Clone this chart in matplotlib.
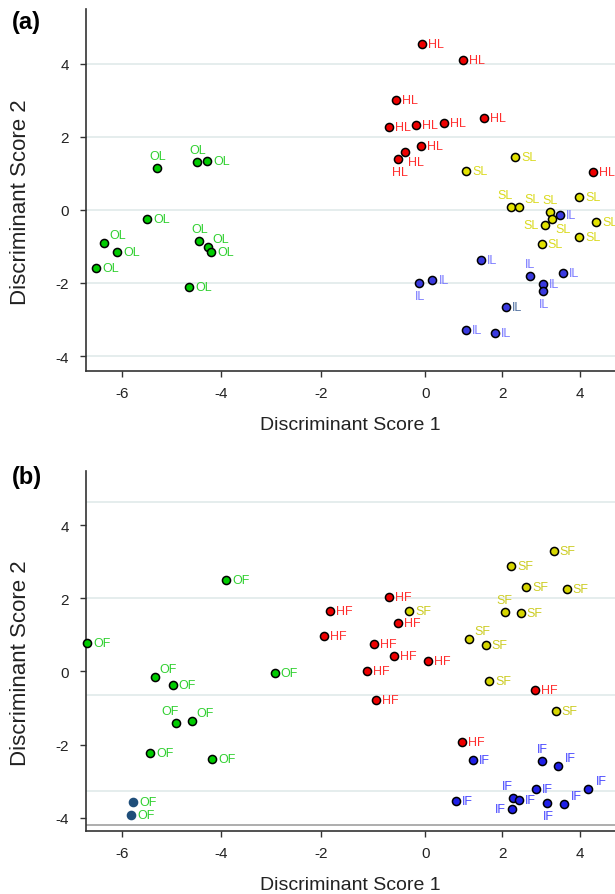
"""
Discriminant analysis scores, panels (a) leaf-type groups and (b) flower-type groups.
Writes out.png.
"""

import numpy as np
import matplotlib

matplotlib.use("Agg")
import matplotlib.pyplot as plt

plt.rcParams["font.family"] = ["Liberation Sans", "DejaVu Sans"]
plt.rcParams["axes.unicode_minus"] = False

# ---- panel (a) data -------------------------------------------------------
ol_x = [-6.53, -6.36, -6.10, -5.50, -5.29, -4.48, -4.28, -4.44, -4.27, -4.20, -4.65]
ol_y = [-1.59, -0.91, -1.14, -0.26, 1.15, 1.30, 1.33, -0.85, -1.01, -1.15, -2.11]

hl_x = [-0.06, 0.98, -0.56, -0.69, -0.18, 0.49, 1.52, -0.07, -0.38, -0.51, 4.32]
hl_y = [4.55, 4.10, 3.01, 2.28, 2.32, 2.39, 2.52, 1.76, 1.59, 1.38, 1.03]

sl_x = [2.33, 1.06, 2.22, 2.43, 3.23, 3.29, 3.10, 3.01, 3.97, 3.98, 4.42]
sl_y = [1.46, 1.07, 0.07, 0.08, -0.05, -0.24, -0.41, -0.93, 0.35, -0.73, -0.32]

il_x = [3.49, 1.44, 2.72, 3.56, 3.05, 3.05, 0.19, -0.11, 2.10, 1.07, 1.82]
il_y = [-0.14, -1.36, -1.82, -1.74, -2.04, -2.23, -1.92, -2.01, -2.66, -3.29, -3.37]

# ---- panel (b) data -------------------------------------------------------
of_x = [-6.71, -3.90, -5.33, -4.98, -2.92, -4.92, -4.59, -5.43, -4.18, -5.78, -5.82]
of_y = [0.78, 2.49, -0.16, -0.37, -0.04, -1.42, -1.35, -2.22, -2.39, -3.57, -3.92]

hf_x = [-0.69, -1.82, -0.51, -1.94, -0.97, -0.60, 0.07, -1.12, -0.94, 2.85, 0.96]
hf_y = [2.04, 1.65, 1.33, 0.96, 0.76, 0.42, 0.30, 0.01, -0.77, -0.51, -1.92]

sf_x = [-0.30, 3.32, 2.23, 2.62, 3.66, 2.07, 2.48, 1.14, 1.57, 1.67, 3.37]
sf_y = [1.65, 3.28, 2.87, 2.31, 2.26, 1.63, 1.59, 0.90, 0.73, -0.26, -1.09]

if_x = [1.24, 3.03, 3.42, 0.81, 2.86, 4.21, 2.28, 2.42, 2.26, 3.15, 3.58]
if_y = [-2.43, -2.44, -2.57, -3.54, -3.21, -3.21, -3.46, -3.52, -3.77, -3.59, -3.62]

# label placement per point (r=right, l=left, a=above, b=below, ...)
ol_pos = ["r", "ar", "r", "r", "a", "a", "r", "a", "ar", "r", "r"]
hl_pos = ["r", "r", "r", "r", "r", "r", "r", "r", "br", "b", "r"]
sl_pos = ["r", "r", "al", "ar", "a", "br", "l", "r", "r", "r", "r"]
il_pos = ["r", "r", "a", "r", "r", "b", "r", "b", "r", "r", "r"]
of_pos = ["r", "r", "ar", "r", "r", "al", "ar", "r", "r", "r", "r"]
hf_pos = ["r"] * 11
sf_pos = ["r", "r", "r", "r", "r", "a", "r", "ar", "r", "r", "r"]
if_pos = ["r", "a", "ar", "r", "r", "ar", "al", "r", "l", "b", "ar"]

# the published x axis is not evenly spaced, keep the same tick spacing (pixels)
x_ticks = [-6, -4, -2, 0, 2, 4]
x_tick_px = [122, 221, 320.5, 425, 502, 580]

OFFSETS = {
    "r": (6, 0, "left"),
    "l": (-6, 0, "right"),
    "a": (0, 12, "center"),
    "b": (1, -13, "center"),
    "ar": (13, 8, "center"),
    "al": (-6, 12, "center"),
    "br": (11, -10, "center"),
}

GREEN, RED, YELLOW, BLUE = "#00cc00", "#ee0000", "#e2e200", "#3a3ae0"


def make_scale():
    xs = [-100] + x_ticks + [100]
    ps = ([x_tick_px[0] - 94 * 49.5] + x_tick_px
          + [x_tick_px[-1] + 96 * 38.75])

    def forward(v):
        return np.interp(v, xs, ps)

    def inverse(p):
        return np.interp(p, ps, xs)

    return forward, inverse


def label_points(ax, xs, ys, text, positions, color, special=None):
    for i, (x, y, p) in enumerate(zip(xs, ys, positions)):
        dx, dy, ha = OFFSETS[p]
        c = color
        if special and i in special:
            c = special[i]
        ax.annotate(text, (x, y), xytext=(dx * 0.72, dy * 0.72),
                    textcoords="offset points", ha=ha, va="center",
                    fontsize=9, color=c)


def style_axes(ax, ylim, grid_at):
    fwd, inv = make_scale()
    ax.set_xscale("function", functions=(fwd, inv))
    ax.set_xlim(-6.73, 4.90)
    ax.set_ylim(*ylim)
    ax.set_xticks(x_ticks)
    ax.set_xticklabels([str(t) for t in x_ticks])
    ax.set_yticks([-4, -2, 0, 2, 4])
    ax.set_yticklabels(["-4", "-2", "0", "2", "4"])
    for g in grid_at:
        ax.axhline(g, color="#e3ecec", linewidth=1.3, zorder=0)
    ax.spines["top"].set_visible(False)
    ax.spines["right"].set_visible(False)
    for s in ("left", "bottom"):
        ax.spines[s].set_color("#333333")
        ax.spines[s].set_linewidth(1.2)
    ax.tick_params(which="major", length=4.5, width=1.0, color="#333333",
                   labelsize=11, labelcolor="#222222")
    ax.tick_params(axis="y", which="major", pad=8)
    ax.tick_params(axis="x", which="major", pad=6)
    ax.set_xlabel("Discriminant Score 1", fontsize=14, labelpad=12,
                  color="#222222")
    ax.set_ylabel("Discriminant Score 2", fontsize=16, color="#222222")
    ax.yaxis.set_label_coords(-0.104, 0.47)


def scatter(ax, xs, ys, color, edge="black"):
    ax.scatter(xs, ys, s=34, c=color, edgecolors=edge, linewidths=1.1,
               zorder=3, clip_on=False)


def main():
    fig = plt.figure(figsize=(6.15, 8.95), dpi=100)
    W, H = 615.0, 895.0

    # ---- (a)
    ax_a = fig.add_axes([86 / W, 1 - 372 / H, 1 - 86 / W, (372 - 10) / H])
    style_axes(ax_a, (-4.41, 5.50), [-4, -2, 0, 2, 4])
    scatter(ax_a, ol_x, ol_y, GREEN)
    scatter(ax_a, hl_x, hl_y, RED)
    scatter(ax_a, sl_x, sl_y, YELLOW)
    scatter(ax_a, il_x, il_y, BLUE)
    label_points(ax_a, ol_x, ol_y, "OL", ol_pos, "#2fd02f")
    label_points(ax_a, hl_x, hl_y, "HL", hl_pos, "#ff2e2e")
    label_points(ax_a, sl_x, sl_y, "SL", sl_pos, "#dada1e")
    label_points(ax_a, il_x, il_y, "IL", il_pos, "#7878ff",
                 special={8: "#4f6f9f"})
    fig.text(12 / W, 1 - 23 / H, "(a)", fontsize=17, fontweight="bold",
             va="center", ha="left")

    # ---- (b)
    ax_b = fig.add_axes([86 / W, 1 - 832 / H, 1 - 86 / W, (832 - 472) / H])
    style_axes(ax_b, (-4.36, 5.48), [4.63, 2.0, -0.64, -3.26])
    ax_b.axhline(-4.19, color="#a0a0a0", linewidth=1.2, zorder=1)
    scatter(ax_b, of_x[:9], of_y[:9], GREEN)
    scatter(ax_b, of_x[9:], of_y[9:], "#1f4e7a", edge="#1f4e7a")
    scatter(ax_b, hf_x, hf_y, RED)
    scatter(ax_b, sf_x, sf_y, "#d6d600")
    scatter(ax_b, if_x, if_y, "#2020e8")
    label_points(ax_b, of_x, of_y, "OF", of_pos, "#2fd02f")
    label_points(ax_b, hf_x, hf_y, "HF", hf_pos, "#ff2e2e")
    label_points(ax_b, sf_x, sf_y, "SF", sf_pos, "#cccc22")
    label_points(ax_b, if_x, if_y, "IF", if_pos, "#4646ff")
    fig.text(12 / W, 1 - 478 / H, "(b)", fontsize=17, fontweight="bold",
             va="center", ha="left")

    fig.savefig("out.png", dpi=100)


if __name__ == "__main__":
    main()
